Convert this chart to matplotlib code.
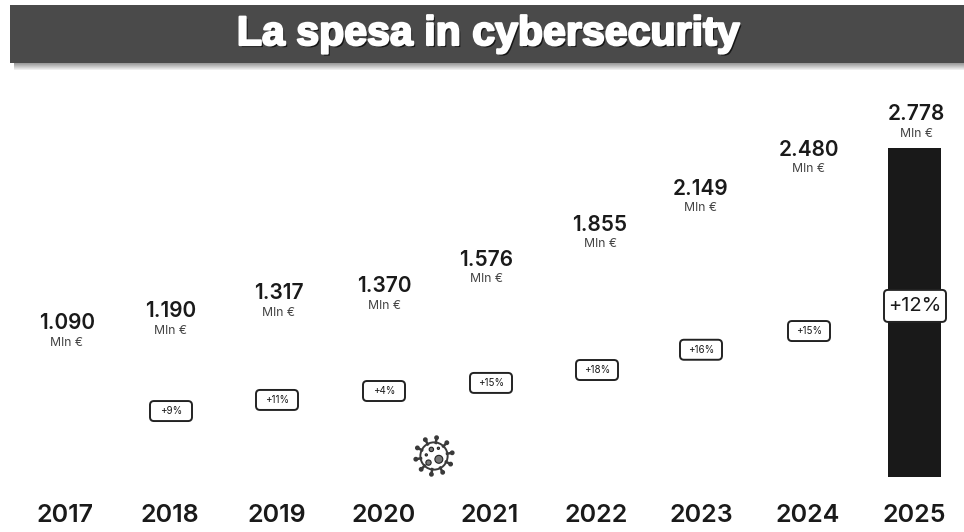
import numpy as np
import matplotlib
matplotlib.use("Agg")
import matplotlib.pyplot as plt
import matplotlib.patheffects as pe
from matplotlib.patches import Rectangle, FancyBboxPatch, Circle

years = ["2017", "2018", "2019", "2020", "2021", "2022", "2023", "2024", "2025"]
spend = [1090, 1190, 1317, 1370, 1576, 1855, 2149, 2480, 2778]
value_labels = ["1.090", "1.190", "1.317", "1.370", "1.576", "1.855", "2.149", "2.480", "2.778"]
growth = [None, "+9%", "+11%", "+4%", "+15%", "+18%", "+16%", "+15%", "+12%"]

# hand placement of the annotations in the original (pixels)
badge_height_share = [0, 0.468, 0.494, 0.53, 0.504, 0.487, 0.50, 0.497, 0.52]
label_drop_px = [9, 9, 6, 5, 3, 1, 0, 0, 0]
label_shift_px = [0, -2, 0, -1, -5, 3, -2, 0, 1]
badge_shift_px = [0, -2, -2, -1, 0, 0, -2, 0, 0]
tick_shift_px = [-2, -3, -2, -1, -1, -1, -2, -1, -1]

W, H = 964, 532
FONT = "Inter"
PT = 0.72  # points per pixel at dpi 100
fig = plt.figure(figsize=(W / 100, H / 100), dpi=100, facecolor="white")

# Banner
bg = fig.add_axes([0, 0, 1, 1])
bg.set_xlim(0, W); bg.set_ylim(H, 0); bg.axis("off")
for k, shade in enumerate(["#9c9c9c", "#a8a8a8", "#b6b6b6", "#c4c4c4", "#d2d2d2", "#e0e0e0", "#eeeeee"]):
    bg.add_patch(Rectangle((14, 63 + k), W - 14, 1, fc=shade, ec="none"))
bg.add_patch(Rectangle((10, 5), W - 10, 58, fc="#4a4a4a", ec="none"))
bg.text(488, 34, "La spesa in cybersecurity", color="white", family="Liberation Sans",
        fontweight="bold", fontsize=29.6, ha="center", va="center",
        path_effects=[pe.withSimplePatchShadow(offset=(1.5, -1.5), shadow_rgbFace="#111111", alpha=0.9),
                      pe.withStroke(linewidth=1.6, foreground="white")])

# Chart
spacing, left, base_px, top_px = 106, 14, 477, 90
px_per_unit = 329 / 2778
ax = fig.add_axes([left / W, (H - base_px) / H, (W - left) / W, (base_px - top_px) / H])
ax.patch.set_alpha(0)
x = np.arange(len(years))
ax.set_xlim(-0.5, -0.5 + (W - left) / spacing)
ax.set_ylim(0, (base_px - top_px) / px_per_unit)
colors = ["white"] * (len(years) - 1) + ["#191919"]
ax.bar(x - 1 / spacing, spend, width=0.5, color=colors, zorder=1)
for s in ax.spines.values():
    s.set_visible(False)
ax.set_yticks([])
ax.set_xticks(x + np.array(tick_shift_px) / spacing, years)
ax.tick_params(axis="x", length=0, pad=19.6)
for t in ax.get_xticklabels():
    t.set_fontsize(18); t.set_fontfamily(FONT); t.set_fontweight("semibold"); t.set_color("#1a1a1a")

# Overlay in pixel coordinates for the fixed-size badges
top = fig.add_axes([0, 0, 1, 1], zorder=5)
top.set_xlim(0, W); top.set_ylim(H, 0); top.axis("off")

for i, (v, lab, g, share) in enumerate(zip(spend, value_labels, growth, badge_height_share)):
    xl = i + label_shift_px[i] / spacing
    drop = label_drop_px[i] * PT
    ax.annotate(lab, (xl, v), xytext=(0, 24.3 - drop), textcoords="offset points", ha="center", va="center",
                fontsize=15, family=FONT, fontweight="semibold", color="#1a1a1a", clip_on=False)
    ax.annotate("Mln €", (xl, v), xytext=(0, 10.2 - drop), textcoords="offset points", ha="center", va="center",
                fontsize=8.8, family=FONT, color="#444444", clip_on=False)
    if g:
        big = i == len(years) - 1
        px, py = ax.transData.transform((i + badge_shift_px[i] / spacing, v * share))
        py = H - py
        w, h = (56, 26) if big else (36, 14)
        top.add_patch(FancyBboxPatch((px - w / 2, py - h / 2), w, h,
                                     boxstyle="round,pad=3,rounding_size=4", fc="white",
                                     ec="#222222", lw=1.4))
        top.text(px, py, g, ha="center", va="center", family=FONT,
                 fontsize=14.5 if big else 7, color="#1a1a1a")

# Virus icon
icon = fig.add_axes([412 / W, (H - 478) / H, 44 / W, 44 / H])
icon.set_xlim(-1, 1); icon.set_ylim(-1, 1); icon.axis("off"); icon.set_aspect("equal")
for a in np.deg2rad(np.arange(0, 360, 36) + 10):
    icon.plot([0.6 * np.cos(a), 0.84 * np.cos(a)], [0.6 * np.sin(a), 0.84 * np.sin(a)], color="#3a3a3a", lw=1.8)
    icon.add_patch(Circle((0.84 * np.cos(a), 0.84 * np.sin(a)), 0.11, fc="#3a3a3a", ec="none"))
icon.add_patch(Circle((0, 0), 0.62, fc="white", ec="#3a3a3a", lw=1.4))
for cx, cy, r in [(0.22, -0.15, 0.18), (-0.25, -0.3, 0.12), (-0.12, 0.3, 0.1), (0.2, 0.35, 0.05), (-0.35, 0.05, 0.05)]:
    icon.add_patch(Circle((cx, cy), r, fc="#777777", ec="#222222", lw=0.8))

fig.savefig("out.png", dpi=100)
